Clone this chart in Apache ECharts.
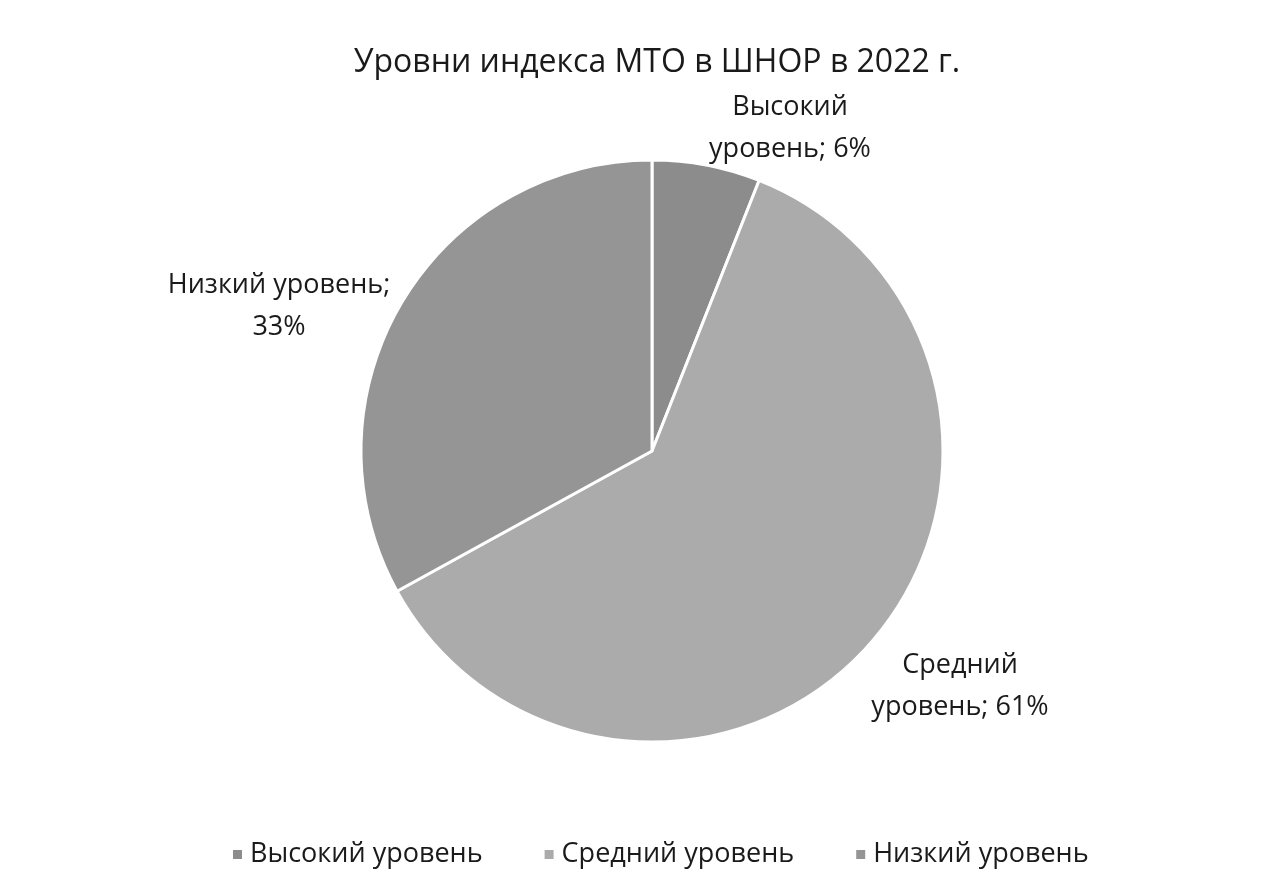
<!DOCTYPE html>
<html>
<head>
<meta charset="utf-8">
<script src="https://cdn.jsdelivr.net/npm/echarts@6/dist/echarts.min.js"></script>
<style>
html,body{margin:0;padding:0;background:#fff;}
#c{width:1284px;height:888px;}
</style>
</head>
<body>
<div id="c"></div>
<script>
const titleText = 'Уровни индекса МТО в ШНОР в 2022 г.';
const categories = ['Высокий уровень', 'Средний уровень', 'Низкий уровень'];
const values = [6, 61, 33];
const colors = ['#8c8c8c', '#ababab', '#959595'];

const labelPos = [
  {x: 790, y: 128},
  {x: 960, y: 686},
  {x: 279, y: 306}
];

const chart = echarts.init(document.getElementById('c'));
const FONT = '"Open Sans", "Liberation Sans", sans-serif';
chart.setOption({
  backgroundColor: '#ffffff',
  animation: false,
  title: {
    text: titleText,
    left: 652, top: 42,
    textAlign: 'center',
    textStyle: {fontFamily: FONT, fontSize: 32, fontWeight: 'normal', color: '#1a1a1a'}
  },
  legend: {
    top: 836,
    left: 226,
    itemWidth: 11, itemHeight: 11,
    itemGap: 60,
    icon: 'rect',
    textStyle: {fontFamily: FONT, fontSize: 27, color: '#1a1a1a', padding: [0,0,0,2]},
    data: categories
  },
  series: [{
    type: 'pie',
    center: [652, 451],
    radius: 291,
    startAngle: 90,
    clockwise: true,
    data: categories.map((n, i) => ({name: n, value: values[i], itemStyle: {color: colors[i]}})),
    itemStyle: {borderColor: '#ffffff', borderWidth: 3},
    label: {
      show: true,
      formatter: function (p) {
        const parts = p.name.split(' ');
        if (p.dataIndex === 2) return p.name + ';\n' + p.value + '%';
        return parts[0] + '\n' + parts[1] + '; ' + p.value + '%';
      },
      fontFamily: FONT, fontSize: 27, color: '#1a1a1a', lineHeight: 42, align: 'center'
    },
    labelLine: {show: false},
    labelLayout: function (p) {
      const pos = labelPos[p.dataIndex];
      return {x: pos.x, y: pos.y, align: 'center', verticalAlign: 'middle'};
    }
  }]
});
</script>
</body>
</html>
